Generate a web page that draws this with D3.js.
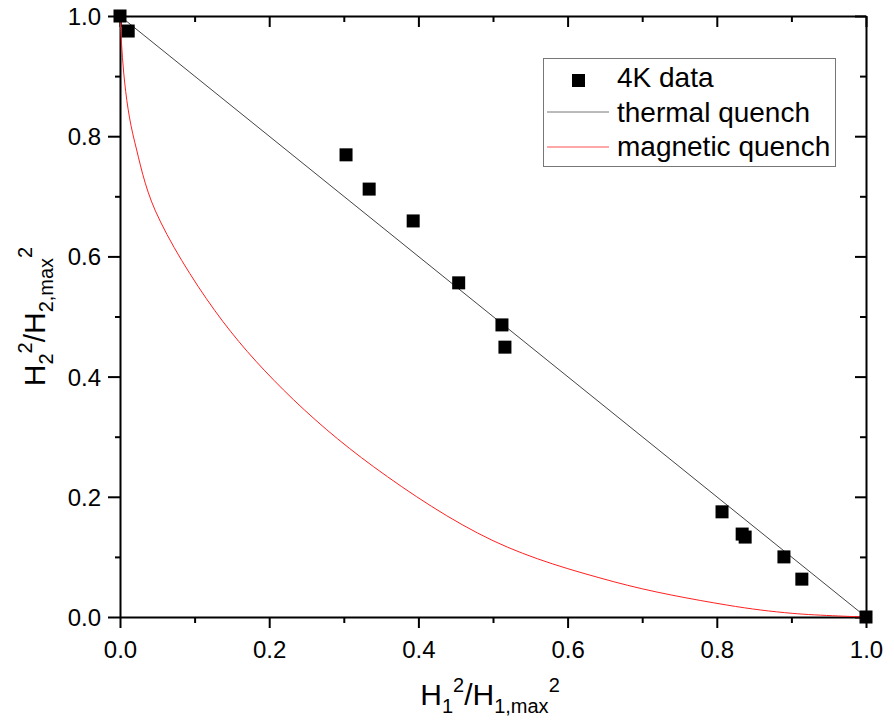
<!DOCTYPE html>
<html>
<head>
<meta charset="utf-8">
<script src="https://cdn.jsdelivr.net/npm/d3@7"></script>
<style>
  body { margin: 0; background: #fff; }
  text { font-family: Arial, "Liberation Sans", sans-serif; fill: #000; }
</style>
</head>
<body>
<div id="chart"></div>
<script>
// Measured 4K points
const dataX = [0.0, 0.011, 0.303, 0.334, 0.393, 0.454, 0.512, 0.516, 0.807, 0.834, 0.838, 0.890, 0.914, 1.0];
const dataY = [1.0, 0.975, 0.769, 0.712, 0.659, 0.556, 0.486, 0.449, 0.175, 0.138, 0.133, 0.100, 0.063, 0.0];

// Thermal quench line (straight)
const thermalX = [0.0, 1.0];
const thermalY = [1.0, 0.0];

// Magnetic quench curve
const magX = [0.0, 0.002, 0.005, 0.011, 0.020, 0.047, 0.127, 0.219, 0.340, 0.500, 0.661, 0.813, 0.902, 1.0];
const magY = [1.0, 0.955, 0.905, 0.844, 0.789, 0.677, 0.510, 0.378, 0.250, 0.127, 0.059, 0.020, 0.006, 0.0];

const tickValues = [0.0, 0.2, 0.4, 0.6, 0.8, 1.0];
const minorValues = [0.1, 0.3, 0.5, 0.7, 0.9];

const legendLabels = ['4K data', 'thermal quench', 'magnetic quench'];

const width = 894, height = 721;
const margin = { left: 120, right: 28, top: 16, bottom: 104 };

const svg = d3.select('#chart').append('svg')
  .attr('width', width)
  .attr('height', height);

const x = d3.scaleLinear().domain([0, 1]).range([margin.left, width - margin.right]);
const y = d3.scaleLinear().domain([0, 1]).range([height - margin.bottom, margin.top]);

const fmt = d3.format('.1f');

// helper for axes - major with labels, minor without
function drawAxis(axisFn, scale, transform, majorLen, minorLen, labels) {
  const g = svg.append('g').attr('transform', transform);
  g.call(axisFn(scale).tickValues(minorValues).tickSize(minorLen).tickFormat(''));
  g.call(function(sel) { sel.select('.domain').remove(); });
  const g2 = svg.append('g').attr('transform', transform);
  g2.call(axisFn(scale).tickValues(tickValues).tickSize(majorLen).tickSizeOuter(0)
    .tickFormat(labels ? fmt : ''));
  g2.select('.domain').attr('stroke-width', 2);
  [g, g2].forEach(function(s) {
    s.selectAll('.tick line').attr('stroke-width', 2);
  });
  return g2;
}

const bottom = drawAxis(d3.axisBottom, x, 'translate(0,' + y(0) + ')', 11, 6, true);
bottom.selectAll('.tick text').attr('font-size', 24).attr('dy', 0).attr('y', 41);

const left = drawAxis(d3.axisLeft, y, 'translate(' + x(0) + ',0)', 12, 5, true);
left.selectAll('.tick text').attr('font-size', 24).attr('x', -19).attr('dy', '0.35em');

// top and right: ticks point inside, no labels
drawAxis(d3.axisBottom, x, 'translate(0,' + y(1) + ')', 11, 6, false);
drawAxis(d3.axisLeft, y, 'translate(' + x(1) + ',0)', 11, 6, false);

svg.selectAll('.tick text').attr('font-family', 'Arial, "Liberation Sans", sans-serif').attr('fill', '#000');

// lines
const line = d3.line().x(function(d) { return x(d[0]); }).y(function(d) { return y(d[1]); });

svg.append('path')
  .datum(thermalX.map(function(v, i) { return [v, thermalY[i]]; }))
  .attr('d', line)
  .attr('fill', 'none')
  .attr('stroke', '#444')
  .attr('stroke-width', 1);

// smooth red curve - centripetal catmull-rom so it doesnt overshoot near x=0
svg.append('path')
  .datum(magX.map(function(v, i) { return [v, magY[i]]; }))
  .attr('d', line.curve(d3.curveCatmullRom.alpha(0.5)))
  .attr('fill', 'none')
  .attr('stroke', '#ff2020')
  .attr('stroke-width', 1);

// squares
const sq = 13;
svg.append('g').selectAll('rect')
  .data(dataX.map(function(v, i) { return [v, dataY[i]]; }))
  .enter().append('rect')
  .attr('x', function(d) { return x(d[0]) - sq / 2; })
  .attr('y', function(d) { return y(d[1]) - sq / 2; })
  .attr('width', sq)
  .attr('height', sq)
  .attr('fill', '#000');

// legend
const lg = svg.append('g');
lg.append('rect')
  .attr('x', 543.5).attr('y', 58.5).attr('width', 292).attr('height', 108)
  .attr('fill', '#fff').attr('stroke', '#777').attr('stroke-width', 1);
lg.append('rect').attr('x', 572).attr('y', 74).attr('width', 13).attr('height', 13).attr('fill', '#000');
lg.append('line').attr('x1', 547).attr('x2', 609).attr('y1', 112).attr('y2', 112)
  .attr('stroke', '#777').attr('stroke-width', 1);
lg.append('line').attr('x1', 547).attr('x2', 609).attr('y1', 147).attr('y2', 147)
  .attr('stroke', '#ff5050').attr('stroke-width', 1);
lg.selectAll('text.lbl')
  .data(legendLabels)
  .enter().append('text')
  .attr('class', 'lbl')
  .attr('x', 617)
  .attr('y', function(d, i) { return 87 + i * 34.5; })
  .attr('font-size', 28)
  .text(function(d) { return d; });

// axis titles with sub/superscripts
function title(el, n) {
  el.append('tspan').text('H');
  el.append('tspan').attr('font-size', 20).attr('dy', 8).text(n);
  el.append('tspan').attr('font-size', 20).attr('dy', -21).text('2');
  el.append('tspan').attr('dy', 13).text('/H');
  el.append('tspan').attr('font-size', 20).attr('dy', 8).text(n + ',max');
  el.append('tspan').attr('font-size', 20).attr('dy', -21).text('2');
}

const xt = svg.append('text')
  .attr('x', (x(0) + x(1)) / 2 - 3)
  .attr('y', 705)
  .attr('text-anchor', 'middle')
  .attr('font-size', 30);
title(xt, '1');

const yt = svg.append('text')
  .attr('transform', 'translate(45,' + (y(0) + y(1)) / 2 + ') rotate(-90)')
  .attr('text-anchor', 'middle')
  .attr('font-size', 30);
title(yt, '2');
</script>
</body>
</html>
